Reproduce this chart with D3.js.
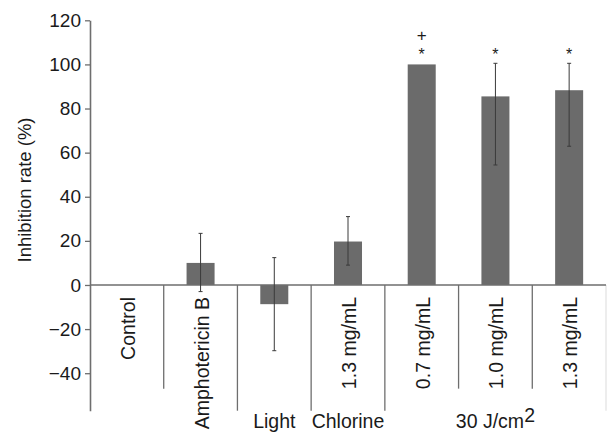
<!DOCTYPE html>
<html>
<head>
<meta charset="utf-8">
<script src="https://cdn.jsdelivr.net/npm/d3@7"></script>
<style>
  body { margin: 0; background: #fff; }
  svg text { font-family: 'Liberation Sans', Arial, sans-serif; fill: #1a1a1a; }
</style>
</head>
<body>
<svg id="chart" width="610" height="434"></svg>
<script>
const categories = ['Control', 'Amphotericin B', 'Light', '1.3 mg/mL', '0.7 mg/mL', '1.0 mg/mL', '1.3 mg/mL']
const values = [0, 10, -8.7, 19.7, 100, 85.5, 88.3]
const errLow = [null, -3, -29.8, 9, null, 54.4, 62.9]
const errHigh = [null, 23.4, 12.4, 31, null, 100.5, 100.5]
const marks = ['', '', '', '', '*+', '*', '*']
const rotatedLabel = [true, true, false, true, true, true, true]
const groups = [
    { name: 'Light', from: 2, to: 2 },
    { name: 'Chlorine', from: 3, to: 3 },
    { name: '30 J/cm', sup: '2', from: 4, to: 6 },
]
const longDivider = [false, true, true, true, false, false, true]
const yTicks = [-40, -20, 0, 20, 40, 60, 80, 100, 120]

const svg = d3.select('#chart')

const x = d3.scaleBand()
    .domain(d3.range(categories.length))
    .range([90, 606])
    .padding(0)

const y = d3.scaleLinear()
    .domain([-57, 120])
    .range([410.7, 20.3])

const barW = x.bandwidth() * 0.38
const axisColor = '#6e6e6e'

// y axis
const yAxis = d3.axisLeft(y)
    .tickValues(yTicks)
    .tickSize(5)
    .tickSizeOuter(0)
svg.append('g')
    .attr('transform', 'translate(90,0)')
    .call(yAxis)
    .call(g => g.select('.domain').attr('stroke', axisColor).attr('stroke-width', 1.6))
    .call(g => g.selectAll('.tick line').attr('stroke', axisColor).attr('stroke-width', 1.3))
    .call(g => g.selectAll('.tick text')
        .attr('x', -9)
        .style('font-size', '19px')
        .style('font-family', "'Liberation Sans', Arial, sans-serif")
        .attr('fill', '#1a1a1a'))

svg.append('text')
    .attr('transform', `translate(31,190) rotate(-90)`)
    .attr('text-anchor', 'middle')
    .style('font-size', '18.5px')
    .text('Inhibition rate (%)')

// category dividers
svg.selectAll('.divider')
    .data(longDivider)
    .join('line')
    .attr('class', 'divider')
    .attr('x1', (d, i) => x(i) + x.bandwidth())
    .attr('x2', (d, i) => x(i) + x.bandwidth())
    .attr('y1', y(0))
    .attr('y2', d => d ? y(-57) : y(-47))
    .attr('stroke', (d, i) => i === categories.length - 1 ? '#e4e4e4' : axisColor)
    .attr('stroke-width', 1.3)

// bars
svg.selectAll('.bar')
    .data(values)
    .join('rect')
    .attr('class', 'bar')
    .attr('x', (d, i) => x(i) + (x.bandwidth() - barW) / 2)
    .attr('width', barW)
    .attr('y', d => y(Math.max(0, d)))
    .attr('height', d => Math.abs(y(d) - y(0)))
    .attr('fill', '#6b6b6b')

// zero line
svg.append('line')
    .attr('x1', 90).attr('x2', 606)
    .attr('y1', y(0)).attr('y2', y(0))
    .attr('stroke', axisColor)
    .attr('stroke-width', 1.3)

// error bars
const errIdx = d3.range(values.length).filter(i => errLow[i] !== null)
const eb = svg.selectAll('.err')
    .data(errIdx)
    .join('g')
    .attr('class', 'err')
    .attr('stroke', '#3a3a3a')
    .attr('stroke-width', 1)
eb.append('line')
    .attr('x1', i => x(i) + x.bandwidth() / 2)
    .attr('x2', i => x(i) + x.bandwidth() / 2)
    .attr('y1', i => y(errLow[i]))
    .attr('y2', i => y(errHigh[i]))
eb.append('line')
    .attr('x1', i => x(i) + x.bandwidth() / 2 - 2)
    .attr('x2', i => x(i) + x.bandwidth() / 2 + 2)
    .attr('y1', i => y(errHigh[i]))
    .attr('y2', i => y(errHigh[i]))
eb.append('line')
    .attr('x1', i => x(i) + x.bandwidth() / 2 - 2)
    .attr('x2', i => x(i) + x.bandwidth() / 2 + 2)
    .attr('y1', i => y(errLow[i]))
    .attr('y2', i => y(errLow[i]))

// significance marks
marks.forEach((m, i) => {
    if (m.includes('*')) {
        svg.append('text')
            .attr('x', x(i) + x.bandwidth() / 2)
            .attr('y', y(106) + 9)
            .attr('text-anchor', 'middle')
            .style('font-size', '16px')
            .text('*')
    }
    if (m.includes('+')) {
        svg.append('text')
            .attr('x', x(i) + x.bandwidth() / 2)
            .attr('y', y(113.5) + 6)
            .attr('text-anchor', 'middle')
            .style('font-size', '17px')
            .text('+')
    }
})

// rotated category labels
svg.selectAll('.cat')
    .data(categories.map((c, i) => ({ c, i })).filter(d => rotatedLabel[d.i]))
    .join('text')
    .attr('class', 'cat')
    .attr('transform', d => `translate(${x(d.i) + x.bandwidth() / 2 + 1},297) rotate(-90)`)
    .attr('text-anchor', 'end')
    .attr('dy', '0.36em')
    .style('font-size', '19.5px')
    .text(d => d.c)

// group labels
const gl = svg.selectAll('.group')
    .data(groups)
    .join('text')
    .attr('class', 'group')
    .attr('x', d => (x(d.from) + x(d.to) + x.bandwidth()) / 2)
    .attr('y', 428)
    .attr('text-anchor', 'middle')
    .style('font-size', '19.5px')
gl.append('tspan').text(d => d.name)
gl.filter(d => d.sup).append('tspan')
    .attr('dy', -6)
    .text(d => d.sup)
</script>
</body>
</html>
